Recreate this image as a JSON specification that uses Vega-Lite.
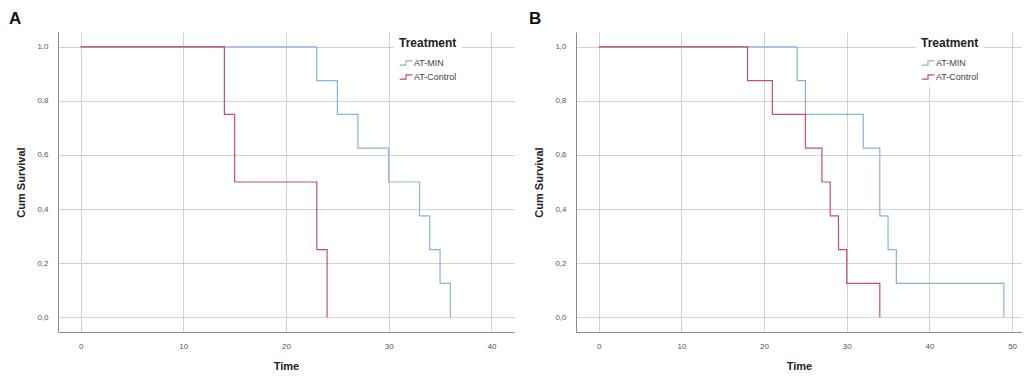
{
  "$schema": "https://vega.github.io/schema/vega-lite/v6.json",
  "background": "white",
  "padding": {"left": 8, "top": 10, "right": 0, "bottom": 0},
  "config": {
    "font": "Liberation Sans",
    "view": {"stroke": null},
    "axis": {
      "grid": true,
      "gridColor": "#d2d2d2",
      "gridWidth": 1,
      "domainColor": "#8a8a8a",
      "ticks": false,
      "labelFontSize": 8,
      "labelColor": "#555555",
      "titleFontSize": 11,
      "titleFontWeight": "bold",
      "titleColor": "#222222"
    },
    "legend": {
      "orient": "none",
      "fillColor": "white",
      "padding": 5,
      "titleFontSize": 12,
      "titleFontWeight": "bold",
      "titleColor": "#222222",
      "titlePadding": 6,
      "labelFontSize": 9,
      "labelColor": "#444444",
      "symbolType": "M-1,0.35L0,0.35L0,-0.35L1,-0.35",
      "symbolSize": 160,
      "symbolStrokeWidth": 1.2,
      "symbolFillColor": "transparent",
      "rowPadding": 2,
      "labelOffset": 1
    },
    "title": {"fontSize": 17, "fontWeight": "bold", "color": "#111111", "anchor": "start", "frame": "bounds"}
  },
  "data": {
    "values": [
      {"panel": "A", "group": "AT-MIN", "time": 0, "survival": 1},
      {"panel": "A", "group": "AT-MIN", "time": 23, "survival": 0.875},
      {"panel": "A", "group": "AT-MIN", "time": 25, "survival": 0.75},
      {"panel": "A", "group": "AT-MIN", "time": 27, "survival": 0.625},
      {"panel": "A", "group": "AT-MIN", "time": 30, "survival": 0.5},
      {"panel": "A", "group": "AT-MIN", "time": 33, "survival": 0.375},
      {"panel": "A", "group": "AT-MIN", "time": 34, "survival": 0.25},
      {"panel": "A", "group": "AT-MIN", "time": 35, "survival": 0.125},
      {"panel": "A", "group": "AT-MIN", "time": 36, "survival": 0},
      {"panel": "A", "group": "AT-Control", "time": 0, "survival": 1},
      {"panel": "A", "group": "AT-Control", "time": 14, "survival": 0.75},
      {"panel": "A", "group": "AT-Control", "time": 15, "survival": 0.5},
      {"panel": "A", "group": "AT-Control", "time": 23, "survival": 0.25},
      {"panel": "A", "group": "AT-Control", "time": 24, "survival": 0},
      {"panel": "B", "group": "AT-MIN", "time": 0, "survival": 1},
      {"panel": "B", "group": "AT-MIN", "time": 24, "survival": 0.875},
      {"panel": "B", "group": "AT-MIN", "time": 25, "survival": 0.75},
      {"panel": "B", "group": "AT-MIN", "time": 32, "survival": 0.625},
      {"panel": "B", "group": "AT-MIN", "time": 34, "survival": 0.375},
      {"panel": "B", "group": "AT-MIN", "time": 35, "survival": 0.25},
      {"panel": "B", "group": "AT-MIN", "time": 36, "survival": 0.125},
      {"panel": "B", "group": "AT-MIN", "time": 49, "survival": 0},
      {"panel": "B", "group": "AT-Control", "time": 0, "survival": 1},
      {"panel": "B", "group": "AT-Control", "time": 18, "survival": 0.875},
      {"panel": "B", "group": "AT-Control", "time": 21, "survival": 0.75},
      {"panel": "B", "group": "AT-Control", "time": 25, "survival": 0.625},
      {"panel": "B", "group": "AT-Control", "time": 27, "survival": 0.5},
      {"panel": "B", "group": "AT-Control", "time": 28, "survival": 0.375},
      {"panel": "B", "group": "AT-Control", "time": 29, "survival": 0.25},
      {"panel": "B", "group": "AT-Control", "time": 30, "survival": 0.125},
      {"panel": "B", "group": "AT-Control", "time": 34, "survival": 0}
    ]
  },
  "resolve": {"scale": {"color": "independent"}},
  "spacing": 14,
  "hconcat": [
    {
      "title": {"text": "A", "dx": -7},
      "width": 456,
      "height": 300,
      "transform": [{"filter": "datum.panel === 'A'"}],
      "mark": {"type": "line", "interpolate": "step-after", "strokeWidth": 1.2},
      "encoding": {
        "x": {
          "field": "time", "type": "quantitative", "title": "Time",
          "scale": {"domain": [-2.2, 42.2], "nice": false, "zero": false},
          "axis": {"values": [0, 10, 20, 30, 40], "labelPadding": 10, "titlePadding": 10}
        },
        "y": {
          "field": "survival", "type": "quantitative", "title": "Cum Survival",
          "scale": {"domain": [-0.055, 1.055], "nice": false, "zero": false},
          "axis": {"values": [0, 0.2, 0.4, 0.6, 0.8, 1.0], "labelExpr": "replace(format(datum.value, '.1f'), '.', ',')", "labelPadding": 10, "titlePadding": 10}
        },
        "color": {
          "field": "group", "type": "nominal", "sort": ["AT-MIN", "AT-Control"],
          "scale": {"domain": ["AT-MIN", "AT-Control"], "range": ["#8db2da", "#c4506b"]},
          "legend": {"title": "Treatment", "legendX": 336, "legendY": 1}
        },
        "order": {"field": "time", "type": "quantitative"}
      }
    },
    {
      "title": {"text": "B", "dx": -5},
      "width": 446,
      "height": 300,
      "transform": [{"filter": "datum.panel === 'B'"}],
      "mark": {"type": "line", "interpolate": "step-after", "strokeWidth": 1.2},
      "encoding": {
        "x": {
          "field": "time", "type": "quantitative", "title": "Time",
          "scale": {"domain": [-2.75, 51.2], "nice": false, "zero": false},
          "axis": {"values": [0, 10, 20, 30, 40, 50], "labelPadding": 10, "titlePadding": 10}
        },
        "y": {
          "field": "survival", "type": "quantitative", "title": "Cum Survival",
          "scale": {"domain": [-0.055, 1.055], "nice": false, "zero": false},
          "axis": {"values": [0, 0.2, 0.4, 0.6, 0.8, 1.0], "labelExpr": "replace(format(datum.value, '.1f'), '.', ',')", "labelPadding": 10, "titlePadding": 10}
        },
        "color": {
          "field": "group", "type": "nominal", "sort": ["AT-MIN", "AT-Control"],
          "scale": {"domain": ["AT-MIN", "AT-Control"], "range": ["#8db2da", "#c4506b"]},
          "legend": {"title": "Treatment", "legendX": 340, "legendY": 1}
        },
        "order": {"field": "time", "type": "quantitative"}
      }
    }
  ]
}
